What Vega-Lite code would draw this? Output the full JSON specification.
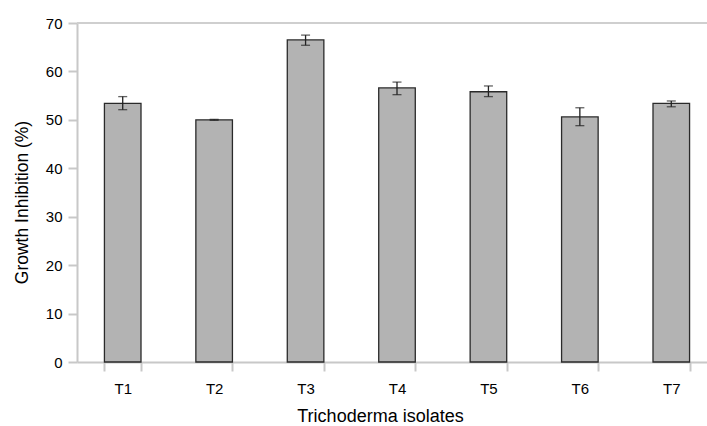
{
  "$schema": "https://vega.github.io/schema/vega-lite/v6.json",
  "width": 640,
  "height": 339,
  "autosize": "none",
  "padding": {"left": 77, "top": 23, "right": 0, "bottom": 64},
  "background": "white",
  "config": {
    "view": {"stroke": null},
    "font": "Liberation Sans",
    "axis": {"labelFont": "Liberation Sans", "titleFont": "Liberation Sans", "labelColor": "#000", "titleColor": "#000", "titleFontWeight": "normal"}
  },
  "data": {
    "values": [
      {"iso": "T1", "value": 53.4, "lo": 52.1, "hi": 54.8},
      {"iso": "T2", "value": 50.0, "lo": 49.9, "hi": 50.1},
      {"iso": "T3", "value": 66.5, "lo": 65.4, "hi": 67.5},
      {"iso": "T4", "value": 56.6, "lo": 55.2, "hi": 57.8},
      {"iso": "T5", "value": 55.8, "lo": 54.8, "hi": 57.0},
      {"iso": "T6", "value": 50.6, "lo": 48.8, "hi": 52.5},
      {"iso": "T7", "value": 53.4, "lo": 52.7, "hi": 53.9}
    ]
  },
  "layer": [
    {
      "mark": {"type": "rule", "color": "#cfcfcf", "strokeWidth": 2},
      "encoding": {"y": {"datum": 70, "type": "quantitative", "scale": {"domain": [0, 70]}}}
    },
    {
      "mark": {"type": "bar", "fill": "#b3b3b3", "stroke": "#2a2a2a", "strokeWidth": 1.3},
      "encoding": {
        "x": {
          "field": "iso", "type": "nominal", "sort": null,
          "scale": {"paddingInner": 0.6, "paddingOuter": 0.3},
          "axis": {
            "title": "Trichoderma isolates", "titleFontSize": 18, "titlePadding": 11, "titleX": 303,
            "labelAngle": 0, "labelFontSize": 15, "labelPadding": 10,
            "tickBand": "extent", "tickSize": 9, "tickColor": "#c8c8c8", "tickWidth": 2,
            "domainColor": "#c8c8c8", "domainWidth": 2
          }
        },
        "y": {
          "field": "value", "type": "quantitative",
          "scale": {"domain": [0, 70]},
          "axis": {
            "title": "Growth Inhibition (%)", "titleFontSize": 17.5, "titlePadding": 14, "titleY": 179,
            "values": [0, 10, 20, 30, 40, 50, 60, 70], "grid": false,
            "labelFontSize": 15, "labelPadding": 6,
            "tickSize": 9, "tickColor": "#c8c8c8", "tickWidth": 2,
            "domainColor": "#c8c8c8", "domainWidth": 2
          }
        }
      }
    },
    {
      "mark": {"type": "rule", "color": "#222", "strokeWidth": 1.3},
      "encoding": {
        "x": {"field": "iso", "type": "nominal", "sort": null},
        "y": {"field": "lo", "type": "quantitative"},
        "y2": {"field": "hi"}
      }
    },
    {
      "mark": {"type": "tick", "color": "#222", "size": 9, "thickness": 1.3},
      "encoding": {
        "x": {"field": "iso", "type": "nominal", "sort": null},
        "y": {"field": "lo", "type": "quantitative"}
      }
    },
    {
      "mark": {"type": "tick", "color": "#222", "size": 9, "thickness": 1.3},
      "encoding": {
        "x": {"field": "iso", "type": "nominal", "sort": null},
        "y": {"field": "hi", "type": "quantitative"}
      }
    }
  ]
}
